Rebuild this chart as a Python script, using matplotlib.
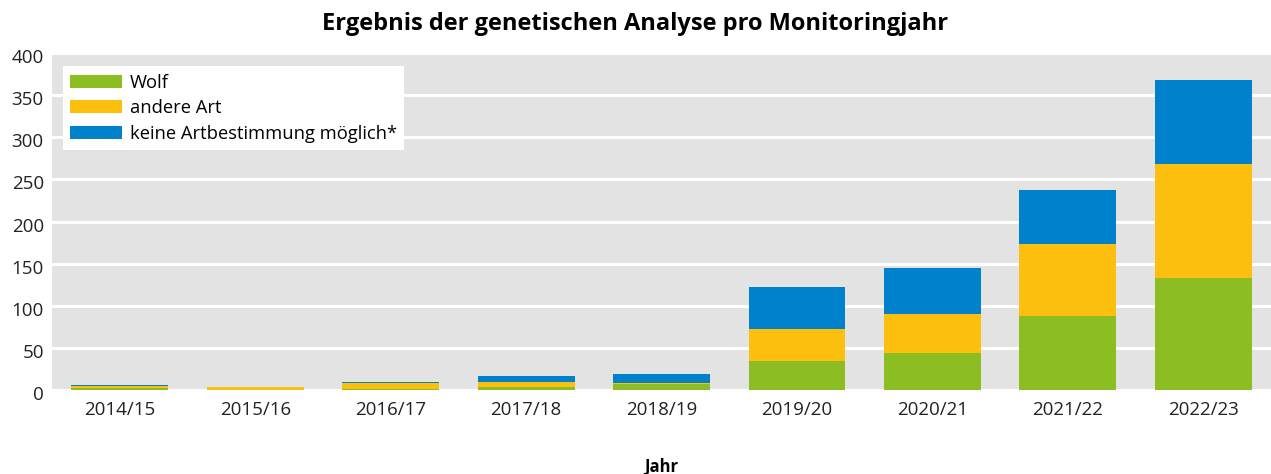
import matplotlib
matplotlib.use("Agg")
import matplotlib.pyplot as plt
import matplotlib.transforms as mtrans
import numpy as np

plt.rcParams['font.family'] = ['Open Sans', 'DejaVu Sans']

years = ["2014/15", "2015/16", "2016/17", "2017/18", "2018/19",
         "2019/20", "2020/21", "2021/22", "2022/23"]
wolf = [2, 0, 1, 4, 7, 35, 44, 88, 133]
andere = [3, 4, 7, 6, 1, 37, 46, 85, 135]
keine = [1, 0, 2, 7, 11, 50, 55, 65, 100]

labels = ["Wolf", "andere Art", "keine Artbestimmung möglich*"]
colors = ["#8cbe23", "#fcbf0e", "#0081cb"]

fig = plt.figure(figsize=(12.71, 4.74), dpi=100)
ax = fig.add_axes([0.041, 0.177, 0.959, 0.711])
ax.set_facecolor("#e3e3e3")

x = np.arange(len(years))
w = 0.715
b1 = np.array(wolf)
b2 = b1 + np.array(andere)
ax.bar(x, wolf, w, color=colors[0], label=labels[0], zorder=3)
ax.bar(x, andere, w, bottom=b1, color=colors[1], label=labels[1], zorder=3)
ax.bar(x, keine, w, bottom=b2, color=colors[2], label=labels[2], zorder=3)

ax.set_xlim(-0.5, 8.5)
ax.set_ylim(0, 400)
ax.set_yticks(range(0, 401, 50))
ax.set_xticks(x)
ax.set_xticklabels(years)
ax.grid(axis='y', color='white', linewidth=2.2, zorder=1)
ax.set_axisbelow(True)
for s in ax.spines.values():
    s.set_visible(False)
ax.tick_params(axis='both', length=0, labelsize=13.5, colors='#222222')
ax.tick_params(axis='x', pad=8)
ax.tick_params(axis='y', pad=6)
off = mtrans.ScaledTranslation(0, -3 / 100, fig.dpi_scale_trans)
for lbl in ax.get_yticklabels():
    lbl.set_transform(lbl.get_transform() + off)

ax.set_xlabel("Jahr", fontsize=12, fontweight='bold', labelpad=28)
fig.suptitle("Ergebnis der genetischen Analyse pro Monitoringjahr",
             fontsize=17, fontweight='bold', y=0.975)

leg = ax.legend(loc='upper left', bbox_to_anchor=(0.009, 0.961), fontsize=13.2,
                frameon=True, fancybox=False, edgecolor='none', framealpha=1,
                handlelength=2.8, handleheight=0.7, labelspacing=0.42,
                borderpad=0.4, handletextpad=0.45, borderaxespad=0)
leg.get_frame().set_linewidth(0)

fig.savefig("out.png", dpi=100)
